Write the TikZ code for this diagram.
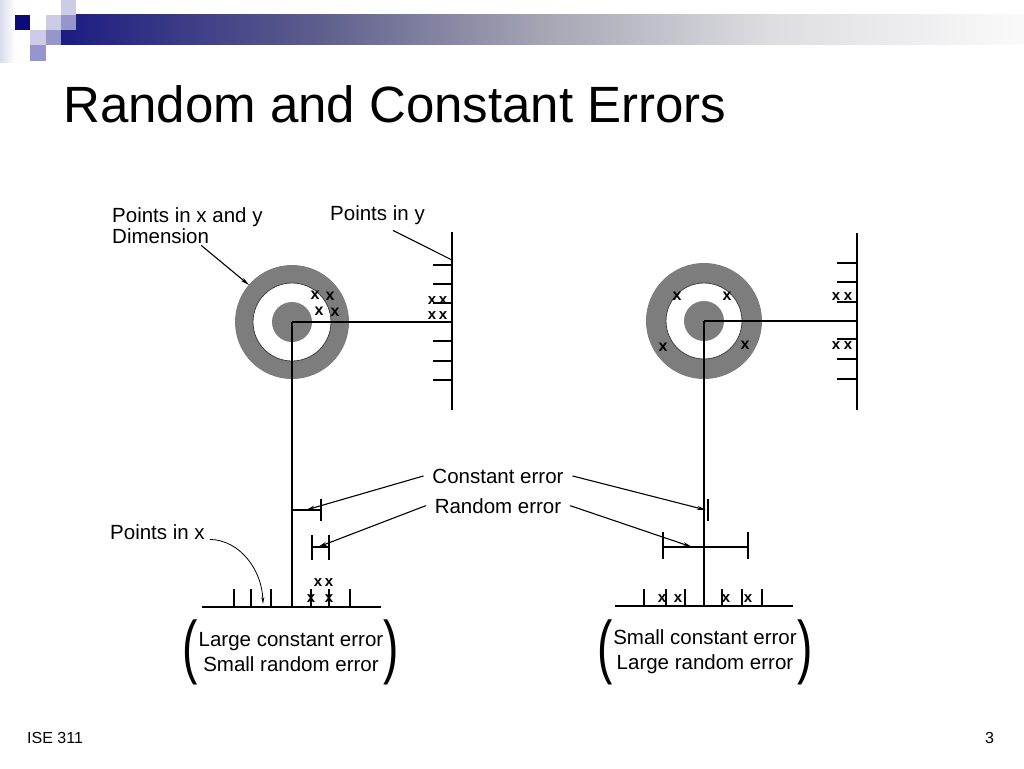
\documentclass[tikz,border=0pt]{standalone}
\usepackage{fontspec}
\setmainfont{Liberation Sans}
\usepackage{graphicx}
\usepackage{tikz}
\usetikzlibrary{arrows.meta, positioning}

\definecolor{navy}{RGB}{10,10,120}
\definecolor{lavlight}{RGB}{204,204,230}
\definecolor{lavmid}{RGB}{150,150,204}
\definecolor{bardark}{RGB}{28,28,130}
\definecolor{barq}{RGB}{92,92,140}
\definecolor{barmid}{RGB}{165,165,180}
\definecolor{barlight}{RGB}{222,222,226}
\definecolor{barend}{RGB}{250,250,250}
\definecolor{ringgray}{RGB}{125,125,125}
\pgfdeclarehorizontalshading{barfade}{100bp}{color(0bp)=(bardark); color(25bp)=(bardark); color(38bp)=(barq); color(50bp)=(barmid); color(62bp)=(barlight); color(75bp)=(barend); color(100bp)=(barend)}

\tikzstyle{slidetitle} = [anchor=base west, inner sep=0pt, font=\fontsize{51}{56}\selectfont]
\tikzstyle{footer} = [anchor=base west, inner sep=0pt, font=\fontsize{16}{18}\selectfont]
\tikzstyle{annot} = [inner sep=0pt, font=\fontsize{20.5}{24}\selectfont]
\tikzstyle{errlabel} = [annot, anchor=base, outer sep=9pt]
\tikzstyle{summary} = [inner sep=0pt, align=center, font=\fontsize{20.5}{25}\selectfont]
\tikzstyle{paren} = [inner sep=0pt, font=\fontsize{40}{40}\selectfont]
\tikzstyle{hit} = [inner sep=0pt, font=\bfseries\fontsize{16}{16}\selectfont]
\tikzstyle{axhit} = [inner sep=0pt, font=\bfseries\fontsize{15}{15}\selectfont]
\tikzstyle{ring} = [fill=ringgray]
\tikzstyle{axisline} = [line width=1.4pt]
\tikzstyle{arrow} = [line width=1.1pt, -{Stealth[length=9pt, width=4pt]}]

\begin{document}
\begin{tikzpicture}[x=1pt, y=-1pt]
    % Slide frame
    \fill[white] (0,0) rectangle (1024,768);
    \useasboundingbox (0,0) rectangle (1024,768);
    \shade[left color=lavlight!70, right color=white] (0,0) rectangle (15,62);
    \shade[shading=barfade] (61,15) rectangle (1024,45);
    \fill[lavlight] (61,0) rectangle (76,15);
    \fill[navy] (15,15) rectangle (30,30);
    \fill[lavlight] (46,15) rectangle (61,30);
    \fill[lavmid] (61,15) rectangle (76,30);
    \fill[lavlight] (30,30) rectangle (46,45);
    \fill[lavmid] (46,30) rectangle (61,45);
    \fill[lavmid] (30,45) rectangle (46,61);
    \node (title) [slidetitle] at (63,122) {Random and Constant Errors};
    \node (course) [footer] at (27,743) {ISE 311};
    \node (pageno) [footer] at (985,743) {3};

    % Left target
    \coordinate (lc) at (292,322);
    \fill[ring] (lc) circle (57pt);
    \filldraw[fill=white, draw=black!75, line width=0.8pt] (lc) circle (39pt);
    \fill[ring] (lc) circle (20pt);
    \coordinate (ledge) at (249,285);

    % Left y axis
    \coordinate (lyt) at (452,232);
    \coordinate (lyb) at (452,410);
    \coordinate (lyc) at (452,322);
    \coordinate (lyp) at (452,260);
    \draw[axisline] (lyt) -- (lyb);
    \draw[axisline] (lc) -- (lyc);
    \foreach \y in {265,284,303,341,361,380}
        \draw[axisline] (433,\y) -- (452,\y);

    % Left x axis
    \coordinate (lxl) at (202,607);
    \coordinate (lxr) at (381,607);
    \coordinate (lxc) at (292,607);
    \coordinate (lpx) at (263,604);
    \draw[axisline] (lxl) -- (lxr);
    \draw[axisline] (lc) -- (lxc);
    \foreach \x in {234,251,271,311,329,350}
        \draw[axisline] (\x,589) -- (\x,607);

    % Left error marks
    \coordinate (lce0) at (292,510);
    \coordinate (lce) at (321,510);
    \coordinate (lcea) at (306,510);
    \draw[axisline] (lce0) -- (lce);
    \draw[axisline] (321,499) -- (321,521);
    \coordinate (lre0) at (312,547);
    \coordinate (lre1) at (329,547);
    \coordinate (lrea) at (318,547);
    \draw[axisline] (lre0) -- (lre1);
    \draw[axisline] (312,535) -- (312,560);
    \draw[axisline] (329,535) -- (329,560);

    % Left hits
    \foreach \p [count=\i] in {(315,295),(330,296),(319,311),(335,312)}
        \node (lt\i) [hit] at \p {x};
    \foreach \p [count=\i] in {(432,301),(443,301),(432,316),(443,316)}
        \node (ly\i) [axhit] at \p {x};
    \foreach \p [count=\i] in {(318,583),(329,583),(311,599),(329,599)}
        \node (lx\i) [axhit] at \p {x};

    % Right target
    \coordinate (rc) at (704,321);
    \fill[ring] (rc) circle (58pt);
    \filldraw[fill=white, draw=black!75, line width=0.8pt] (rc) circle (38pt);
    \fill[ring] (rc) circle (20pt);

    % Right y axis
    \coordinate (ryt) at (857,233);
    \coordinate (ryb) at (857,410);
    \coordinate (ryc) at (857,321);
    \draw[axisline] (ryt) -- (ryb);
    \draw[axisline] (rc) -- (ryc);
    \foreach \y in {263,282,302,339,359,379}
        \draw[axisline] (837,\y) -- (857,\y);

    % Right x axis
    \coordinate (rxl) at (615,606);
    \coordinate (rxr) at (793,606);
    \coordinate (rxc) at (704,606);
    \draw[axisline] (rxl) -- (rxr);
    \draw[axisline] (rc) -- (rxc);
    \foreach \x in {644,666,685,722,742,762}
        \draw[axisline] (\x,589) -- (\x,606);

    % Right error marks
    \coordinate (rcea) at (706,510);
    \draw[axisline] (708,499) -- (708,521);
    \coordinate (rre0) at (663,547);
    \coordinate (rre1) at (748,547);
    \coordinate (rrea) at (692,547);
    \draw[axisline] (rre0) -- (rre1);
    \draw[axisline] (663,532) -- (663,559);
    \draw[axisline] (748,532) -- (748,559);

    % Right hits
    \foreach \p [count=\i] in {(677,296),(727,296),(663,347),(745,345)}
        \node (rt\i) [hit] at \p {x};
    \foreach \p [count=\i] in {(836,297),(848,297),(836,346),(848,346)}
        \node (ry\i) [axhit] at \p {x};
    \foreach \p [count=\i] in {(662,599),(678,599),(726,599),(748,599)}
        \node (rx\i) [axhit] at \p {x};

    % Labels
    \node (pxy) [annot, anchor=base west] at (112,222) {Points in x and y};
    \node (pdim) [annot, anchor=base west] at (112,243) {Dimension};
    \node (py) [annot, anchor=base west] at (330,220) {Points in y};
    \node (px) [annot, anchor=base west] at (110,539) {Points in x};
    \node (const) [errlabel] at (498,483) {Constant error};
    \node (rand) [errlabel] at (498,513) {Random error};

    % Pointers
    \draw [arrow] ([shift={(-8pt,-2pt)}]pdim.south east) -- (ledge);
    \draw [line width=1.1pt] ([shift={(-32pt,-6pt)}]py.south east) -- (lyp);
    \draw [line width=0.8pt, -{Stealth[length=7pt, width=3pt]}] ([xshift=5pt]px.south east) .. controls (240,540) and (262,570) .. (lpx);
    \draw [arrow] (const.west) -- (lcea);
    \draw [arrow] (const.east) -- (rcea);
    \draw [arrow] (rand.west) -- (lrea);
    \draw [arrow] (rand.east) -- (rrea);

    % Summaries
    \node (lsum) [summary] at (291,652) {Large constant error\\Small random error};
    \node (llp) [paren, left=0pt of lsum] {\scalebox{1.15}[1.75]{(}};
    \node (lrp) [paren, right=0pt of lsum] {\scalebox{1.15}[1.75]{)}};
    \node (rsum) [summary] at (705,652) {Small constant error\\Large random error};
    \node (rlp) [paren, left=0pt of rsum] {\scalebox{1.15}[1.75]{(}};
    \node (rrp) [paren, right=0pt of rsum] {\scalebox{1.15}[1.75]{)}};
\end{tikzpicture}
\end{document}
